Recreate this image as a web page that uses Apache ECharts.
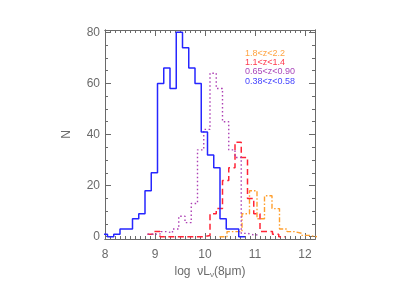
<!DOCTYPE html>
<html><head><meta charset="utf-8">
<script src="https://cdn.jsdelivr.net/npm/echarts@6/dist/echarts.min.js"></script>
<style>html,body{margin:0;padding:0;background:#fff}#c{width:420px;height:300px}</style>
</head><body><div id="c"></div>
<script>
// ---- data ----
const xTickLabels = [8, 9, 10, 11, 12];
const yTickLabels = [0, 20, 40, 60, 80];
const binWidth = 0.125;
const blueStart = 7.925;
const blueCounts = [1,0,1,3,3,7,9,18,25,60,66,58,80,74,66,60,41,32,27,7,3,3,0];
const purpleStart = 8.85;
const purpleCounts = [1,1,2,1.5,3,8,5.5,13,34,42,64,58,45,34,31,1.3,0.7,0.7];
const redStart = 8.85;
const redCounts = [1,2,0,0,0,0,0,0,0,0.5,9,11,22,27,37,31,15,9,2,2,1,0];
const orangeStart = 10.29;
const orangeWidth = 0.15;
const orangeCounts = [0,2,2,9,18,7,16,11,3,2,1.3,0.5,0];
const legendLabels = ['1.8<z<2.2', '1.1<z<1.4', '0.65<z<0.90', '0.38<z<0.58'];

// ---- styles ----
const FONT = 'Liberation Sans';
const axisColor = '#6a6a6a';
const labelColor = '#6a6a6a';
const colOrange = '#ff9f2e', colRed = '#ff2436', colPurple = '#ad40b4', colBlue = '#2626ff';
const legendColors = ['#ffa443', '#ff3a4e', '#aa48bb', '#4646ff'];

function steps(start, w, counts) {
  const d = counts.map((v, i) => [start + i * w, v]);
  d.push([start + counts.length * w, counts[counts.length - 1]]);
  return d;
}
const XMIN = 8, XMAX = 12.2, YMIN = -0.9, YMAX = 80.9;
const xMinor = [];
for (let k = 81; k <= 122; k++) { if (k % 10 !== 0) xMinor.push(k / 10); }
const yMinor = [];
for (let k = 5; k <= 80; k += 5) { if (k % 20 !== 0) yMinor.push(k); }

function xAx(pos, vals, len, showLabel, extra) {
  return Object.assign({
    type: 'value', min: XMIN, max: XMAX, position: pos,
    axisLine: { show: true, onZero: false, lineStyle: { color: axisColor, width: 1 } },
    axisTick: { show: true, inside: true, length: len, customValues: vals, lineStyle: { color: axisColor } },
    axisLabel: { show: showLabel, customValues: vals, color: labelColor, fontFamily: FONT, fontSize: 12, margin: 10 },
    splitLine: { show: false }
  }, extra || {});
}
function yAx(pos, vals, len, showLabel, extra) {
  return Object.assign({
    type: 'value', min: YMIN, max: YMAX, position: pos,
    axisLine: { show: true, onZero: false, lineStyle: { color: axisColor, width: 1 } },
    axisTick: { show: true, inside: true, length: len, customValues: vals, lineStyle: { color: axisColor } },
    axisLabel: { show: showLabel, customValues: vals, color: labelColor, fontFamily: FONT, fontSize: 12, margin: 5 },
    splitLine: { show: false }
  }, extra || {});
}

const chart = echarts.init(document.getElementById('c'), null, { renderer: 'canvas' });
const lineBase = { type: 'line', showSymbol: false, symbol: 'none', step: 'end', xAxisIndex: 0, yAxisIndex: 0, animation: false, clip: true };
chart.setOption({
  animation: false,
  backgroundColor: '#fff',
  grid: { left: 105, right: 105, top: 30, bottom: 61 },
  xAxis: [
    xAx('bottom', xTickLabels, 6, true, {
      name: '{n|log  ν}{n|L}{s|ν}{n|(8μm)}', nameLocation: 'middle', nameGap: 26,
      nameTextStyle: { color: labelColor, fontFamily: FONT, fontSize: 12,
        rich: { n: { fontFamily: FONT, fontSize: 12, color: labelColor },
                s: { fontFamily: FONT, fontSize: 8, color: labelColor, padding: [6, 0, 0, 0] } } }
    }),
    xAx('bottom', xMinor, 3, false),
    xAx('top', xTickLabels, 6, false),
    xAx('top', xMinor, 3, false)
  ],
  yAxis: [
    yAx('left', yTickLabels, 6, true, {
      name: 'N', nameLocation: 'middle', nameGap: 32,
      nameTextStyle: { color: labelColor, fontFamily: FONT, fontSize: 12 }
    }),
    yAx('left', yMinor, 3, false),
    yAx('right', yTickLabels, 6, false),
    yAx('right', yMinor, 3, false)
  ],
  series: [
    Object.assign({}, lineBase, { name: legendLabels[3], data: steps(blueStart, binWidth, blueCounts),
      lineStyle: { color: colBlue, width: 1.5, type: 'solid' }, z: 5 }),
    Object.assign({}, lineBase, { name: legendLabels[2], data: steps(purpleStart, binWidth, purpleCounts),
      lineStyle: { color: colPurple, width: 1.4, type: [1.5, 2.5] }, z: 4 }),
    Object.assign({}, lineBase, { name: legendLabels[1], data: steps(redStart, binWidth, redCounts),
      lineStyle: { color: colRed, width: 1.5, type: [6, 3.5] }, z: 3 }),
    Object.assign({}, lineBase, { name: legendLabels[0], data: steps(orangeStart, orangeWidth, orangeCounts),
      lineStyle: { color: colOrange, width: 1.4, type: [5, 2, 1.5, 2] }, z: 2 })
  ],
  graphic: legendLabels.map((t, i) => ({
    type: 'text', x: 245, y: 53.5 + i * 9.2, z: 10,
    style: { text: t, fill: legendColors[i], font: '9px ' + FONT, verticalAlign: 'middle', align: 'left' }
  }))
});
</script></body></html>
